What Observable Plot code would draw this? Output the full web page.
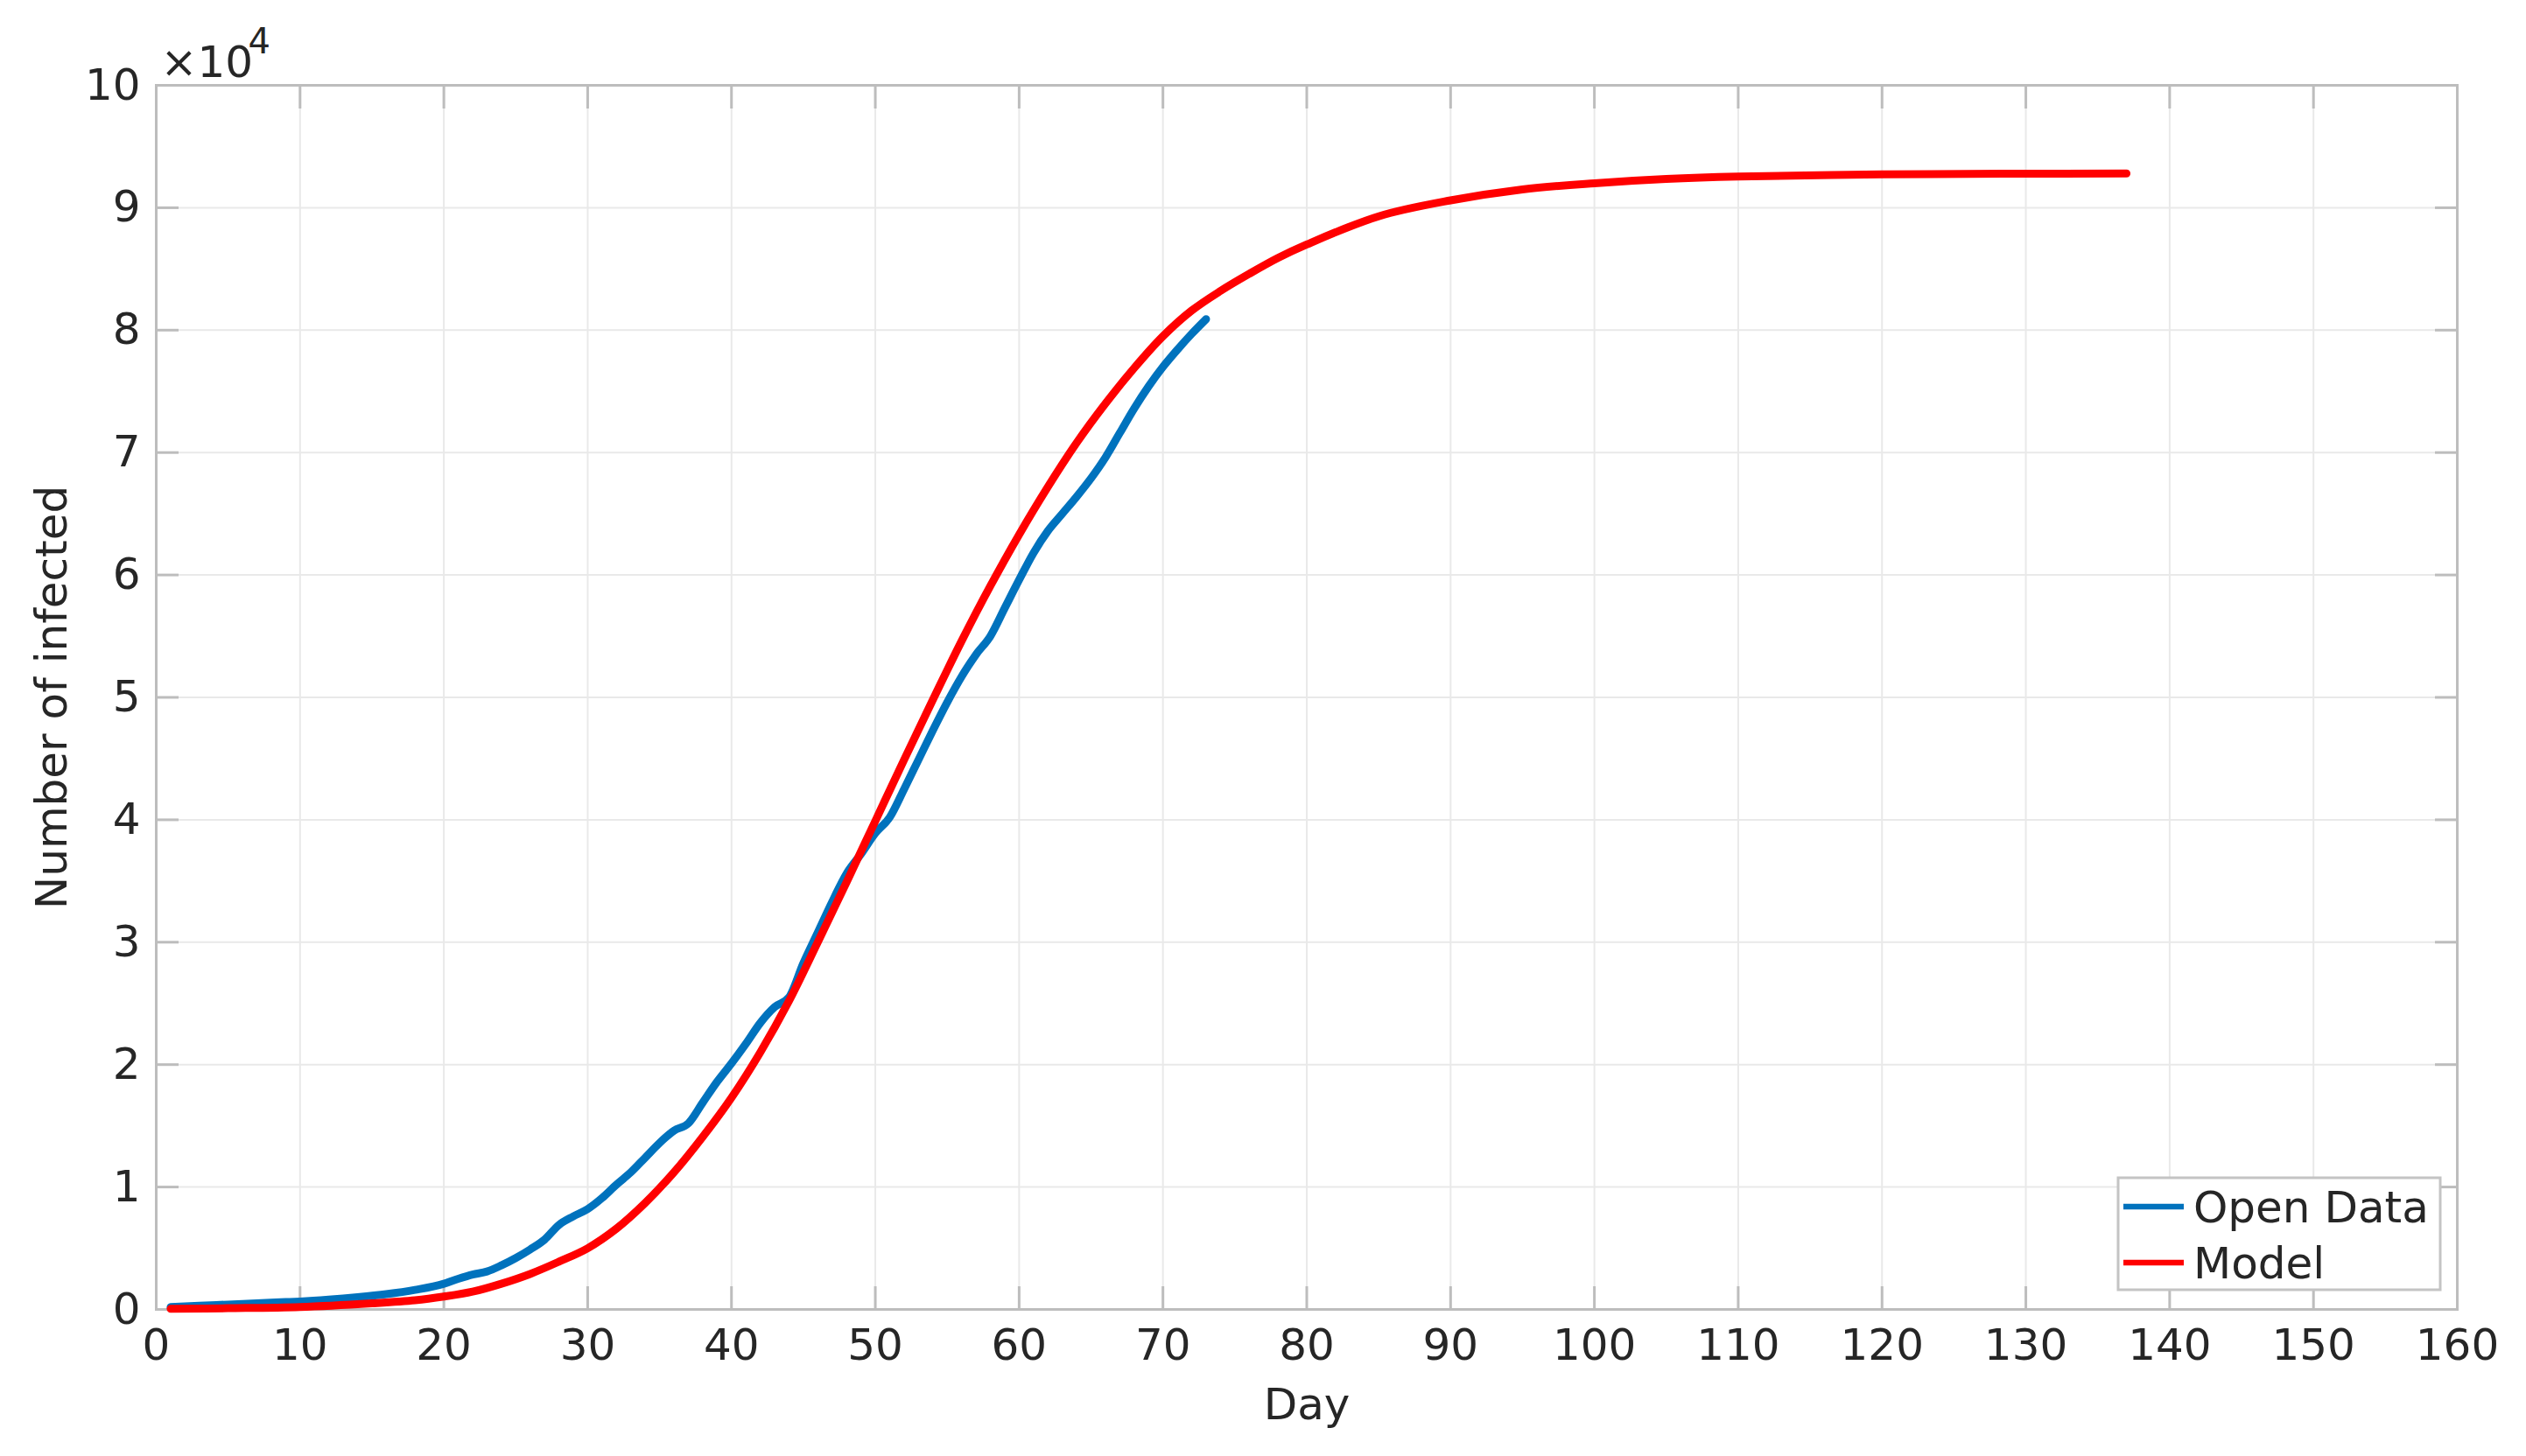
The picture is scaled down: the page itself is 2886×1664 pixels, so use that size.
<!DOCTYPE html>
<html>
<head>
<meta charset="utf-8">
<script src="https://cdn.jsdelivr.net/npm/d3@7"></script>
<script src="https://cdn.jsdelivr.net/npm/@observablehq/plot@0.6"></script>
<style>
  html, body { margin: 0; padding: 0; background: white; }
  #chart svg { display: block; }
</style>
</head>
<body>
<div id="chart"></div>
<script>
// ---- Data ----
const openDays  = [1,3,5,7,9,10,12,14,16,18,20,21,22,23,24,25,26,27,28,29,30,31,32,33,34,35,36,37,38,39,40,41,42,43,44,45,46,47,48,49,50,51,52,53,54,55,56,57,58,59,60,61,62,63,64,65,66,67,68,69,70,71,72,73];
const openCases = [200,300,400,500,600,650,800,1000,1250,1600,2100,2500,2850,3100,3600,4200,4900,5700,6900,7600,8200,9100,10200,11200,12400,13600,14600,15200,16900,18600,20100,21700,23400,24700,25500,28300,30800,33300,35600,37200,38900,40200,42500,44900,47300,49600,51700,53500,55000,57300,59600,61800,63600,65000,66400,67900,69600,71600,73600,75400,77000,78400,79700,80900];

const modelDays  = [1,5,10,15,18,20,22,24,26,28,30,32,34,36,38,40,42,44,46,48,50,52,54,56,58,60,62,64,66,68,70,72,74,76,78,80,85,90,95,100,105,110,120,130,137];
const modelCases = [50,100,200,500,750,1050,1450,2100,2900,3900,5000,6600,8700,11200,14100,17300,21000,25200,30000,34900,39900,44900,49800,54600,59100,63300,67200,70800,74000,76900,79500,81600,83200,84600,85900,87000,89300,90600,91500,92000,92350,92550,92720,92780,92800];

const xTicks = [0,10,20,30,40,50,60,70,80,90,100,110,120,130,140,150,160];
const yTicks = [0,10000,20000,30000,40000,50000,60000,70000,80000,90000,100000];
const yExponent = "4";
const seriesNames  = ["Open Data", "Model"];
const seriesColors = ["#0072BD", "#FF0000"];
const xLabel = "Day";
const yLabel = "Number of infected";

// ---- Build tables ----
const openData = openDays.map((d, i) => ({day: d, cases: openCases[i]}));
const modelData = modelDays.map((d, i) => ({day: d, cases: modelCases[i]}));

const FONT = "DejaVu Sans";
const axisColor = "#bdbdbd";
const gridColor = "#e9e9e9";
const textColor = "#262626";

const plot = Plot.plot({
  width: 2886,
  height: 1664,
  marginLeft: 178,
  marginRight: 79,
  marginTop: 97,
  marginBottom: 168,
  x: {domain: [0, 160]},
  y: {domain: [0, 100000]},
  style: {fontFamily: FONT, fontSize: "50px", color: textColor, background: "white"},
  marks: [
    Plot.gridX(xTicks, {stroke: gridColor, strokeOpacity: 1, strokeWidth: 2}),
    Plot.gridY(yTicks, {stroke: gridColor, strokeOpacity: 1, strokeWidth: 2}),
    // inward tick marks on all four sides
    Plot.axisX(xTicks, {anchor: "bottom", tickSize: -26, tickFormat: () => "", label: null, stroke: axisColor, strokeWidth: 3}),
    Plot.axisX(xTicks, {anchor: "top", tickSize: -26, tickFormat: () => "", label: null, stroke: axisColor, strokeWidth: 3}),
    Plot.axisY(yTicks, {anchor: "left", tickSize: -26, tickFormat: () => "", label: null, stroke: axisColor, strokeWidth: 3}),
    Plot.axisY(yTicks, {anchor: "right", tickSize: -26, tickFormat: () => "", label: null, stroke: axisColor, strokeWidth: 3}),
    // tick labels
    Plot.axisX(xTicks, {anchor: "bottom", tickSize: 0, tickPadding: 22, label: null, fontSize: 50, fill: textColor}),
    Plot.axisY(yTicks, {anchor: "left", tickSize: 0, tickPadding: 18, tickFormat: d => String(d / 1e4), label: null, fontSize: 50, fill: textColor}),
    Plot.frame({stroke: axisColor, strokeWidth: 3}),
    // data
    Plot.line(openData, {x: "day", y: "cases", stroke: seriesColors[0], strokeWidth: 9, curve: "monotone-x"}),
    Plot.line(modelData, {x: "day", y: "cases", stroke: seriesColors[1], strokeWidth: 9, curve: "catmull-rom"}),
    // axis titles
    Plot.text([xLabel], {frameAnchor: "bottom", textAnchor: "middle", lineAnchor: "middle", dy: 109, fontSize: 50, fill: textColor}),
    Plot.text([yLabel], {frameAnchor: "left", textAnchor: "middle", lineAnchor: "middle", dx: -119, rotate: -90, fontSize: 50, fill: textColor}),
    // exponent label
    Plot.text(["\u00d710"], {frameAnchor: "top-left", textAnchor: "start", lineAnchor: "bottom", dx: 5, dy: -10, fontSize: 50, fill: textColor}),
    Plot.text([yExponent], {frameAnchor: "top-left", textAnchor: "start", lineAnchor: "bottom", dx: 105, dy: -37, fontSize: 40, fill: textColor})
  ]
});

document.getElementById("chart").appendChild(plot);

// ---- Legend (inside the axes, lower right) ----
const sx = plot.scale("x"), sy = plot.scale("y");
const xr = sx.range[1], yb = sy.range[0];
const svg = d3.select(plot);
const lg = svg.append("g").attr("font-family", FONT).attr("font-size", 50)
  .attr("fill", textColor).attr("text-anchor", "start");
const boxW = 368, boxH = 128;
const bx = xr - 19 - boxW, by = yb - 22 - boxH;
lg.append("rect").attr("x", bx).attr("y", by).attr("width", boxW).attr("height", boxH)
  .attr("fill", "white").attr("stroke", "#c4c4c4").attr("stroke-width", 3);
seriesNames.forEach((name, i) => {
  const cy = by + 33 + i * 64;
  lg.append("line").attr("x1", bx + 6).attr("x2", bx + 75).attr("y1", cy).attr("y2", cy)
    .attr("stroke", seriesColors[i]).attr("stroke-width", 6.5);
  lg.append("text").attr("x", bx + 86).attr("y", cy).attr("dy", "0.36em")
    .attr("text-anchor", "start").text(name);
});
</script>
</body>
</html>
